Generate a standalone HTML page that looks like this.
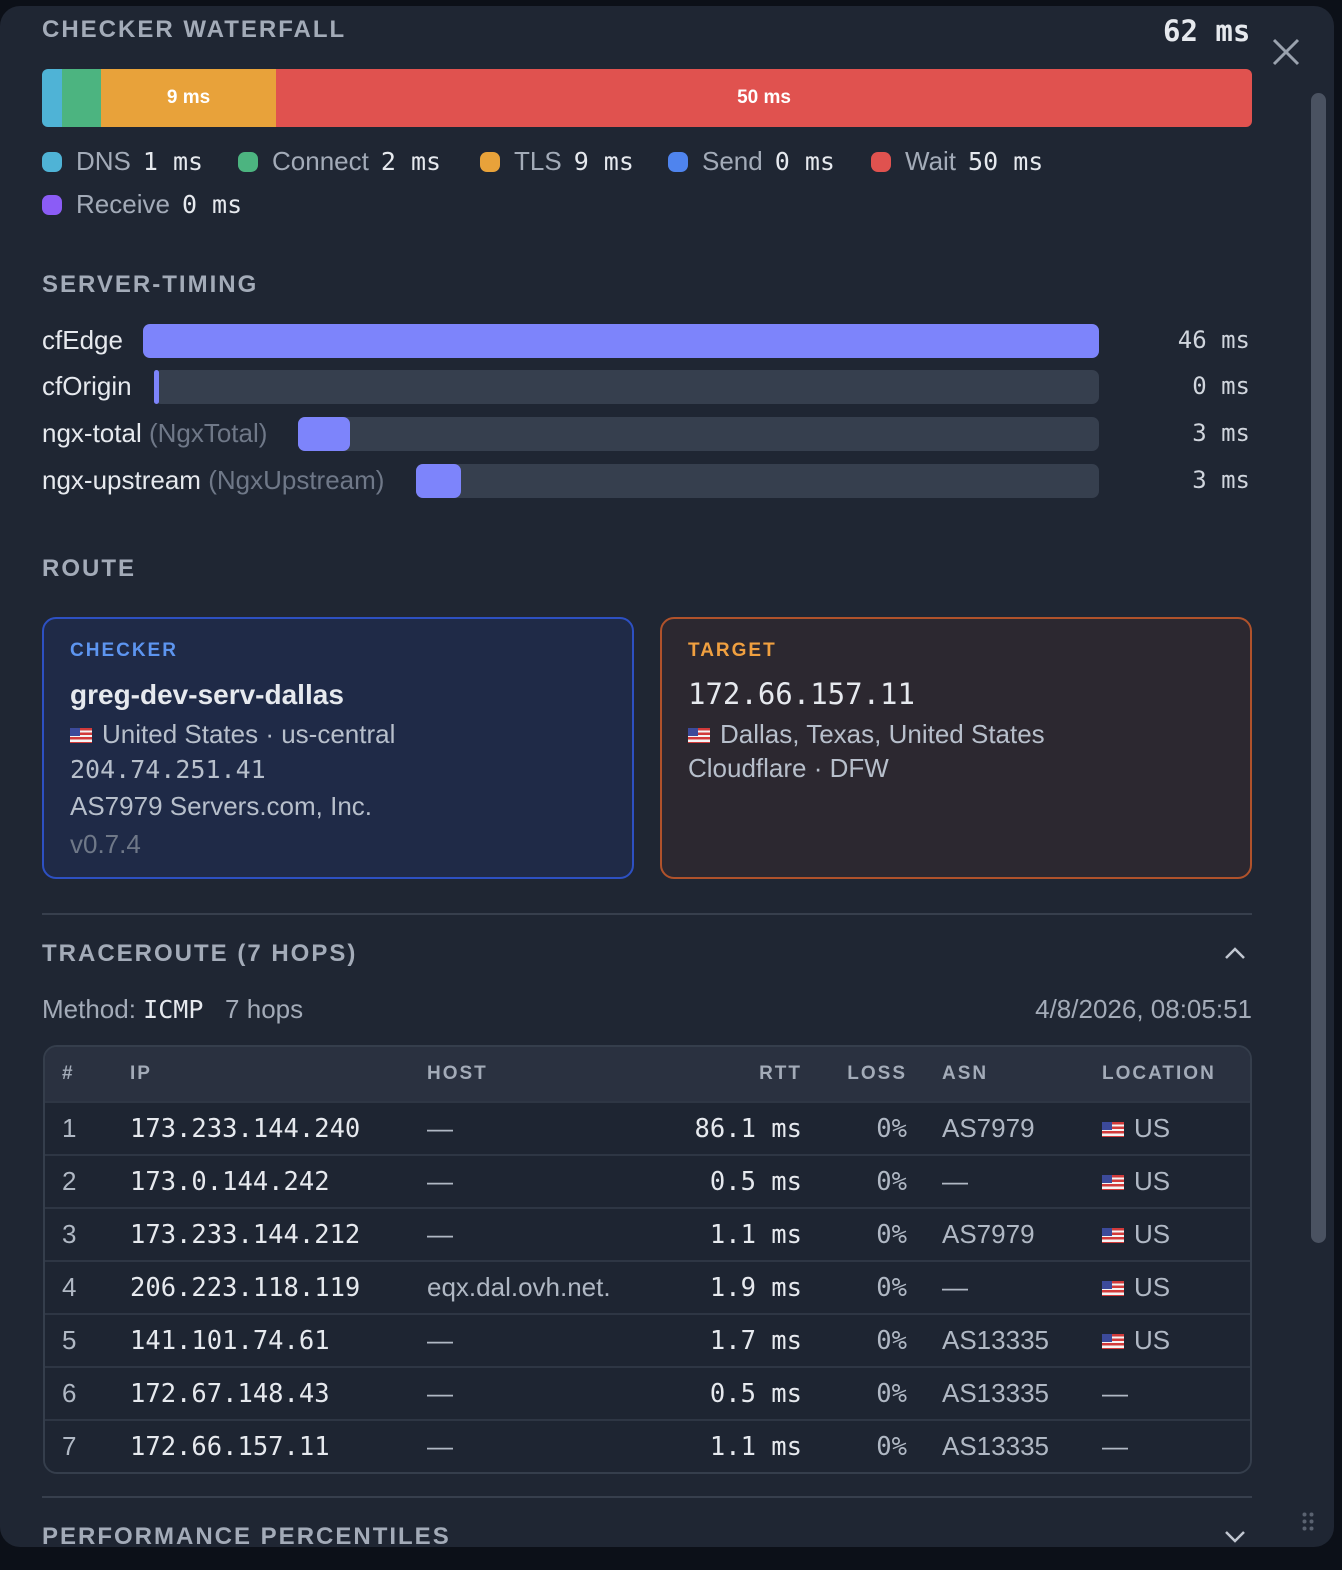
<!DOCTYPE html>
<html><head><meta charset="utf-8"><style>
*{margin:0;padding:0;box-sizing:border-box}
body{width:1342px;height:1570px;background:#0c1018;overflow:hidden;position:relative;font-family:"Liberation Sans",sans-serif;color:#e6e9ee}
.panel{position:absolute;left:0;top:6px;width:1334px;height:1541px;background:#1f2633;border-radius:20px;overflow:hidden}
.a{position:absolute;white-space:nowrap;line-height:30px;height:30px}
.h{font-size:24px;font-weight:bold;letter-spacing:2px;color:#a3abb8}
.m{font-family:"DejaVu Sans Mono","Liberation Mono",monospace}
.lg{font-size:26px;color:#a3abb8}
.lg b{font-weight:normal;color:#e6e9ee;font-family:"DejaVu Sans Mono",monospace;margin-left:12px;font-size:25px}
.dot{display:inline-block;width:20px;height:20px;border-radius:7px;vertical-align:-2px;margin-right:14px}
.bar{position:absolute;height:34px;border-radius:7px}
.trk{background:#363f4e}
.fil{background:#7d84fb}
.sv{font-size:24px;color:#d0d5dd}
.flag{display:inline-block;width:22px;height:15px;vertical-align:0px;margin-right:10px;background:repeating-linear-gradient(#d23a3a 0 2.3px,#f4f4f4 2.3px 4.6px);position:relative}
.flag:before{content:"";position:absolute;left:0;top:0;width:10px;height:8px;background:#3c4a9a}
.card{position:absolute;top:617px;height:262px;width:592px;border-radius:14px;border:2px solid}
.ct{font-size:26px;color:#b7bfcb}
.sl{font-size:26px}
table{position:absolute;left:43px;top:1045px;width:1209px;border-collapse:separate;border-spacing:0;border:2px solid #353e4c;border-radius:14px;overflow:hidden}
td,th{height:53px;border-top:2px solid #2e3644;font-size:26px;white-space:nowrap}
th{height:54px;border-top:none;background:#2a3140;font-size:19px;letter-spacing:2px;color:#a3abb8;text-align:left;font-weight:bold}
td{background:#1e2532;color:#e6e9ee}
td.m{font-size:25.5px}
.g{color:#b0b8c4}
.r{text-align:right}
</style></head><body>
<div class="panel">
<div class="a h" style="left:42px;top:9px">CHECKER WATERFALL</div>
<div class="a m" style="left:1163px;top:8px;font-size:29px;font-weight:bold;height:34px;line-height:34px">62 ms</div>
<svg style="position:absolute;left:1272px;top:32px" width="28" height="28"><path d="M2 2L26 26M26 2L2 26" stroke="#9aa2ae" stroke-width="3"/></svg>
<div style="position:absolute;left:1311px;top:87px;width:15px;height:1150px;border-radius:8px;background:#4a5261"></div>

<div style="position:absolute;left:42px;top:63px;width:1210px;height:58px;border-radius:6px;overflow:hidden;display:flex;font-size:19px;font-weight:bold;color:#fff;line-height:58px;text-align:center">
<div style="width:20px;background:#4fb3d6"></div><div style="width:39px;background:#4cb480"></div><div style="width:175px;background:#e8a23a">9 ms</div><div style="flex:1;background:#e0524f">50 ms</div></div>

<div class="a lg" style="left:42px;top:140px"><span class="dot" style="background:#4fb3d6"></span>DNS<b>1 ms</b></div>
<div class="a lg" style="left:238px;top:140px"><span class="dot" style="background:#4cb480"></span>Connect<b>2 ms</b></div>
<div class="a lg" style="left:480px;top:140px"><span class="dot" style="background:#e8a23a"></span>TLS<b>9 ms</b></div>
<div class="a lg" style="left:668px;top:140px"><span class="dot" style="background:#4f84ee"></span>Send<b>0 ms</b></div>
<div class="a lg" style="left:871px;top:140px"><span class="dot" style="background:#e0524f"></span>Wait<b>50 ms</b></div>
<div class="a lg" style="left:42px;top:183px"><span class="dot" style="background:#8b5cf6"></span>Receive<b>0 ms</b></div>

<div class="a h" style="left:42px;top:264px">SERVER-TIMING</div>
<div class="a sl" style="left:42px;top:319px">cfEdge</div>
<div class="bar fil" style="left:143px;top:318px;width:956px"></div>
<div class="a m sv" style="left:1150px;top:319px;width:100px;text-align:right">46 ms</div>
<div class="a sl" style="left:42px;top:365px">cfOrigin</div>
<div class="bar trk" style="left:154px;top:364px;width:945px"></div>
<div class="bar fil" style="left:154px;top:364px;width:5px;border-radius:3px"></div>
<div class="a m sv" style="left:1150px;top:365px;width:100px;text-align:right">0 ms</div>
<div class="a sl" style="left:42px;top:412px">ngx-total <span style="color:#6f7888">(NgxTotal)</span></div>
<div class="bar trk" style="left:298px;top:411px;width:801px"></div>
<div class="bar fil" style="left:298px;top:411px;width:52px"></div>
<div class="a m sv" style="left:1150px;top:412px;width:100px;text-align:right">3 ms</div>
<div class="a sl" style="left:42px;top:459px">ngx-upstream <span style="color:#6f7888">(NgxUpstream)</span></div>
<div class="bar trk" style="left:416px;top:458px;width:683px"></div>
<div class="bar fil" style="left:416px;top:458px;width:45px"></div>
<div class="a m sv" style="left:1150px;top:459px;width:100px;text-align:right">3 ms</div>

<div class="a h" style="left:42px;top:548px">ROUTE</div>
<div class="card" style="left:42px;top:611px;background:#1f2a47;border-color:#2d50c2"></div>
<div class="card" style="left:660px;top:611px;background:#2c2830;border-color:#b0522b"></div>
<div class="a" style="left:70px;top:630px;font-size:19px;font-weight:bold;letter-spacing:2px;color:#5d95f0">CHECKER</div>
<div class="a" style="left:70px;top:674px;font-size:28px;font-weight:bold;height:34px">greg-dev-serv-dallas</div>
<div class="a ct" style="left:70px;top:713px"><span class="flag"></span>United States · us-central</div>
<div class="a ct m" style="left:70px;top:749px;font-size:25px">204.74.251.41</div>
<div class="a ct" style="left:70px;top:785px">AS7979 Servers.com, Inc.</div>
<div class="a" style="left:70px;top:823px;font-size:26px;color:#6f7888">v0.7.4</div>
<div class="a" style="left:688px;top:630px;font-size:19px;font-weight:bold;letter-spacing:2px;color:#f0a040">TARGET</div>
<div class="a m" style="left:688px;top:673px;font-size:29px;height:34px">172.66.157.11</div>
<div class="a ct" style="left:688px;top:713px"><span class="flag"></span>Dallas, Texas, United States</div>
<div class="a ct" style="left:688px;top:747px">Cloudflare · DFW</div>

<div style="position:absolute;left:42px;top:907px;width:1210px;height:2px;background:#373f4d"></div>
<div class="a h" style="left:42px;top:933px">TRACEROUTE (7 HOPS)</div>
<svg style="position:absolute;left:1224px;top:940px" width="22" height="14"><path d="M2 12L11 3L20 12" stroke="#c0c6d0" stroke-width="2.5" fill="none"/></svg>
<div class="a" style="left:42px;top:988px;font-size:26px;color:#a3abb8">Method: <span class="m" style="color:#e6e9ee;font-size:25px">ICMP</span>&nbsp;&nbsp;&nbsp;7 hops</div>
<div class="a" style="left:950px;top:988px;width:302px;text-align:right;font-size:26px;color:#a3abb8">4/8/2026, 08:05:51</div>
</div>

<table style="top:1045px">
<tr><th style="width:85px;padding-left:17px">#</th><th style="width:297px">IP</th><th style="width:200px">HOST</th><th class="r" style="width:175px">RTT</th><th class="r" style="width:105px">LOSS</th><th style="width:195px;padding-left:35px">ASN</th><th>LOCATION</th></tr>
<tr><td class="g" style="padding-left:17px">1</td><td class="m">173.233.144.240</td><td class="g">—</td><td class="m r">86.1 ms</td><td class="m r g">0%</td><td class="g" style="padding-left:35px">AS7979</td><td class="g"><span class="flag"></span>US</td></tr>
<tr><td class="g" style="padding-left:17px">2</td><td class="m">173.0.144.242</td><td class="g">—</td><td class="m r">0.5 ms</td><td class="m r g">0%</td><td class="g" style="padding-left:35px">—</td><td class="g"><span class="flag"></span>US</td></tr>
<tr><td class="g" style="padding-left:17px">3</td><td class="m">173.233.144.212</td><td class="g">—</td><td class="m r">1.1 ms</td><td class="m r g">0%</td><td class="g" style="padding-left:35px">AS7979</td><td class="g"><span class="flag"></span>US</td></tr>
<tr><td class="g" style="padding-left:17px">4</td><td class="m">206.223.118.119</td><td class="g">eqx.dal.ovh.net.</td><td class="m r">1.9 ms</td><td class="m r g">0%</td><td class="g" style="padding-left:35px">—</td><td class="g"><span class="flag"></span>US</td></tr>
<tr><td class="g" style="padding-left:17px">5</td><td class="m">141.101.74.61</td><td class="g">—</td><td class="m r">1.7 ms</td><td class="m r g">0%</td><td class="g" style="padding-left:35px">AS13335</td><td class="g"><span class="flag"></span>US</td></tr>
<tr><td class="g" style="padding-left:17px">6</td><td class="m">172.67.148.43</td><td class="g">—</td><td class="m r">0.5 ms</td><td class="m r g">0%</td><td class="g" style="padding-left:35px">AS13335</td><td class="g">—</td></tr>
<tr><td class="g" style="padding-left:17px">7</td><td class="m">172.66.157.11</td><td class="g">—</td><td class="m r">1.1 ms</td><td class="m r g">0%</td><td class="g" style="padding-left:35px">AS13335</td><td class="g">—</td></tr>
</table>

<div style="position:absolute;left:0;top:6px;width:1334px;height:1541px;border-radius:20px;overflow:hidden;pointer-events:none">
<div style="position:absolute;left:42px;top:1490px;width:1210px;height:2px;background:#373f4d"></div>
<div class="a h" style="left:42px;top:1516px">PERFORMANCE PERCENTILES</div>
<svg style="position:absolute;left:1224px;top:1524px" width="22" height="14"><path d="M2 2L11 11L20 2" stroke="#c0c6d0" stroke-width="2.5" fill="none"/></svg>
<svg style="position:absolute;left:1302px;top:1506px" width="12" height="20" fill="#5a6270"><circle cx="2.5" cy="2.5" r="2"/><circle cx="9.5" cy="2.5" r="2"/><circle cx="2.5" cy="9.5" r="2"/><circle cx="9.5" cy="9.5" r="2"/><circle cx="2.5" cy="16.5" r="2"/><circle cx="9.5" cy="16.5" r="2"/></svg>
</div>
</body></html>
